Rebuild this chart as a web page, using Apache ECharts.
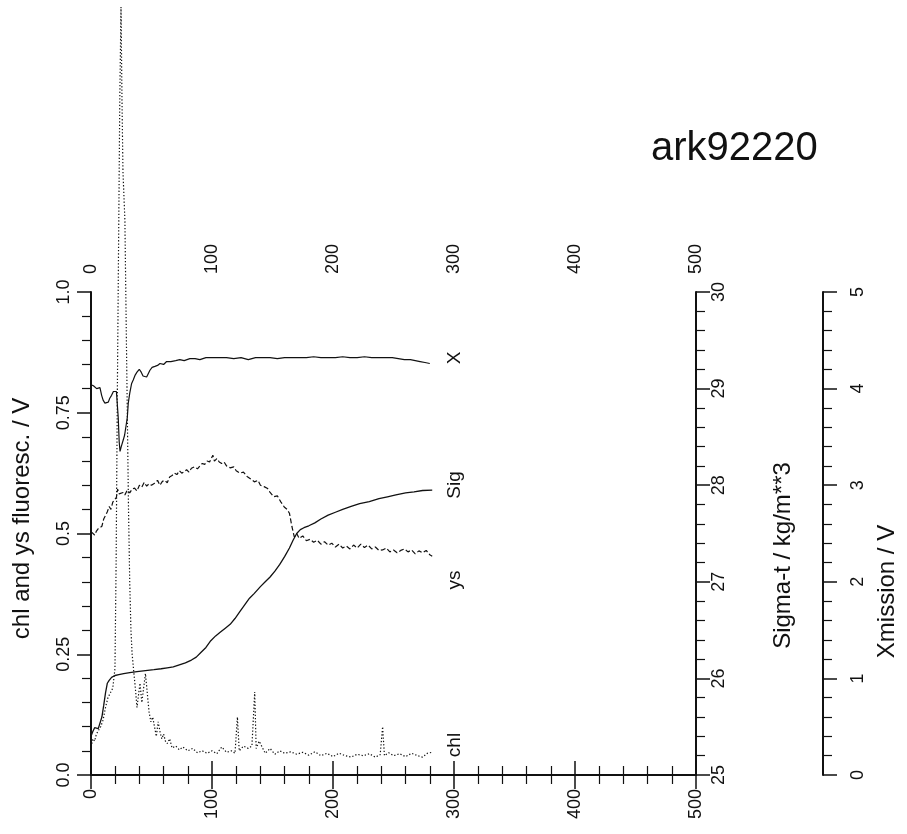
<!DOCTYPE html>
<html>
<head>
<meta charset="utf-8">
<script src="https://cdn.jsdelivr.net/npm/echarts@6/dist/echarts.min.js"></script>
<style>html,body{margin:0;padding:0;background:#fff}#c{width:907px;height:834px}</style>
</head>
<body>
<div id="c"></div>
<script>
var FONT = '"Liberation Sans", Arial, Helvetica, sans-serif';

var titleText = 'ark92220';
var leftAxisName = 'chl and ys fluoresc. / V';
var sigAxisName = 'Sigma-t / kg/m**3';
var xmAxisName = 'Xmission / V';
var leftTickLabels = {'0': '0.0', '0.25': '0.25', '0.5': '0.5', '0.75': '0.75', '1': '1.0'};
var curveNames = ['X', 'Sig', 'ys', 'chl'];

var chlDepth = [0,1.5,3,4.5,6,8,10,12,14,16,18,19.8,20.8,21.8,22.8,23.8,24.8,25.6,26.4,27.2,28,29,30,31,32,33,34,35.5,37,38,39,40.5,42,43.5,45,46.5,48,49.5,51,52.5,54,55.5,57,58.5,60,61.5,63,65,67,70,73,76,80,84,88,92,96,100,104,108,112,116,119,121,122.5,126,130,133,135.3,136.5,139,141,144,148,152,156,160,165,170,175,180,185,190,195,200,205,210,215,220,225,230,235,239,241,242.5,246,250,255,260,265,270,274,278,282];
var chlVal = [0.058,0.075,0.07,0.085,0.087,0.1,0.114,0.14,0.16,0.17,0.18,0.22,0.45,0.8,1.1,1.4,1.59,1.4,1.25,1.2,1.15,0.95,0.75,0.55,0.4,0.3,0.25,0.21,0.17,0.14,0.16,0.19,0.15,0.18,0.21,0.17,0.13,0.11,0.12,0.1,0.08,0.11,0.09,0.075,0.085,0.07,0.065,0.075,0.056,0.06,0.052,0.058,0.05,0.055,0.046,0.05,0.045,0.05,0.044,0.058,0.047,0.05,0.045,0.12,0.05,0.06,0.055,0.06,0.172,0.055,0.07,0.06,0.045,0.055,0.043,0.05,0.045,0.048,0.043,0.047,0.041,0.048,0.04,0.045,0.038,0.045,0.04,0.037,0.043,0.04,0.044,0.037,0.042,0.1,0.04,0.046,0.04,0.044,0.038,0.045,0.04,0.037,0.045,0.047];

var ysDepth = [0,1.5,3,4.5,6,7.5,9,10.5,12,13.5,15,16.5,18,19.6,21,22,23.2,24.8,26.5,28,30,32,34,36,38,40,42,44,46,48,50,52.5,55,57,59,61,63,65,67,69,71,73,75,77,79,81,83,85.5,88,90,92,94,96,98,100.7,102,104,106,108,110,112,115,118,120,123,126,129,132,135,138,140,143,146,148,151,154,157,159.7,162,164,166,168,170,172,175,178,181,184,187,190,193,196,199,202,205,208,211,214,217,220,223,226,229,232,235,238,241,244,247,250,253,256,259,262,265,268,271,274,277,280,282];
var ysVal = [0.504,0.5,0.497,0.505,0.51,0.508,0.515,0.53,0.528,0.545,0.556,0.55,0.565,0.569,0.575,0.592,0.582,0.578,0.585,0.58,0.59,0.584,0.592,0.594,0.588,0.6,0.596,0.606,0.598,0.603,0.6,0.604,0.61,0.6,0.608,0.61,0.605,0.617,0.62,0.625,0.622,0.63,0.625,0.628,0.632,0.627,0.635,0.638,0.634,0.64,0.645,0.643,0.65,0.648,0.662,0.65,0.655,0.648,0.645,0.648,0.64,0.636,0.638,0.63,0.625,0.627,0.618,0.613,0.607,0.61,0.6,0.597,0.593,0.585,0.576,0.578,0.565,0.555,0.55,0.542,0.515,0.493,0.5,0.49,0.495,0.485,0.488,0.482,0.486,0.478,0.483,0.476,0.48,0.472,0.478,0.47,0.474,0.468,0.476,0.47,0.478,0.471,0.476,0.468,0.472,0.465,0.466,0.47,0.462,0.466,0.46,0.465,0.468,0.462,0.466,0.458,0.464,0.46,0.465,0.456,0.453];

var sigDepth = [0,1.5,3,4.5,6,7.5,9,10.5,12,13.5,15,17,19.8,23,27,32,38,45,52,58,63,68,73,78,83,87,91,95,99,103,107,111,115,119,123,127,131,135,140,144,148,152,156,160,164,167,170,173,176,180,185,190,196,202,208,215,222,230,238,245,252,260,267,274,282];
var sigVal = [25.40,25.45,25.49,25.50,25.48,25.50,25.60,25.72,25.85,25.95,25.98,26.01,26.03,26.04,26.05,26.06,26.07,26.08,26.09,26.10,26.11,26.12,26.14,26.16,26.19,26.22,26.27,26.32,26.39,26.44,26.48,26.52,26.56,26.62,26.69,26.76,26.83,26.88,26.95,27.00,27.05,27.11,27.18,27.26,27.35,27.43,27.50,27.54,27.56,27.58,27.61,27.65,27.69,27.72,27.75,27.78,27.81,27.83,27.86,27.88,27.90,27.92,27.93,27.945,27.95];

var xmDepth = [0,2,4.7,6,7.4,8.8,10,11.5,13,14.3,15.5,17,18.5,19.8,21,21.7,22.5,23.3,24,25,25.8,26.7,27.8,28.9,30,30.8,32,33.5,34.9,36.5,38,39.9,41.5,43,44.5,46,47.5,48.7,50.5,52.8,55,57,60,62.5,66,70,73.4,77,81.7,86,90,95,100.7,106,112,118,124,130,136,142,148,154,160,166,172,178,184,190,196,202,208,214,220,226,232,238,244,249,254,259,264,268,272,276,280];
var xmVal = [4.04,4.03,4.00,4.02,4.01,3.93,3.88,3.85,3.86,3.86,3.90,3.93,3.97,3.99,3.97,3.95,3.70,3.45,3.35,3.40,3.38,3.47,3.52,3.61,3.70,3.85,3.95,4.05,4.09,4.14,4.17,4.20,4.17,4.13,4.13,4.12,4.16,4.19,4.22,4.23,4.24,4.26,4.25,4.28,4.28,4.29,4.30,4.29,4.31,4.31,4.30,4.32,4.32,4.32,4.32,4.31,4.32,4.30,4.32,4.32,4.32,4.31,4.32,4.32,4.32,4.32,4.33,4.32,4.32,4.32,4.33,4.32,4.32,4.33,4.32,4.32,4.32,4.32,4.31,4.30,4.30,4.29,4.28,4.27,4.26];

function pairs(a, b) { return a.map(function (d, i) { return [d, b[i]]; }); }

var black = '#111';
var tickLabel = { color: black, fontFamily: FONT, fontSize: 18, rotate: 90 };
var nameSize = 24;

function depthAxis(pos, margin) {
  return {
    type: 'value', position: pos, min: 0, max: 500, interval: 100,
    axisLine: { show: true, lineStyle: { color: black, width: 2 } },
    axisTick: { show: true, inside: false, length: 14, lineStyle: { color: black, width: 1.5 } },
    minorTick: { show: true, splitNumber: 5, length: 9, lineStyle: { color: black, width: 1.2 } },
    splitLine: { show: false }, minorSplitLine: { show: false },
    axisLabel: Object.assign({}, tickLabel, { margin: margin })
  };
}

function valAxis(o) {
  return Object.assign({
    type: 'value', nameLocation: 'middle', nameRotate: 90,
    axisLine: { show: true, onZero: false, lineStyle: { color: black, width: 2 } },
    axisTick: { show: true, inside: false, length: 14, lineStyle: { color: black, width: 1.5 } },
    minorTick: { show: true, splitNumber: 5, length: 9, lineStyle: { color: black, width: 1.2 } },
    splitLine: { show: false }, minorSplitLine: { show: false }
  }, o);
}

var chart = echarts.init(document.getElementById('c'), null, { renderer: 'canvas' });
chart.setOption({
  backgroundColor: '#fff',
  animation: false,
  title: {
    text: titleText, left: 646, top: 124,
    textStyle: { fontFamily: FONT, fontSize: 40, fontWeight: 'normal', color: black }
  },
  grid: { left: 91, top: 292, right: 210, bottom: 59, containLabel: false },
  xAxis: [depthAxis('bottom', 14), depthAxis('top', 18)],
  yAxis: [
    valAxis({
      position: 'left', min: 0, max: 1, interval: 0.25,
      name: leftAxisName, nameGap: 57,
      nameTextStyle: { fontFamily: FONT, fontSize: nameSize, color: black, padding: [0, 0, 0, 30] },
      axisLabel: Object.assign({}, tickLabel, {
        margin: 18,
        formatter: function (v) { return leftTickLabels[String(v)] || String(v); }
      })
    }),
    valAxis({
      position: 'right', min: 25, max: 30, interval: 1,
      name: sigAxisName, nameGap: 75,
      nameTextStyle: { fontFamily: FONT, fontSize: nameSize, color: black, padding: [0, 44, 0, 0] },
      axisLabel: Object.assign({}, tickLabel, { margin: 14 })
    }),
    valAxis({
      position: 'right', offset: 127, min: 0, max: 5, interval: 1,
      name: xmAxisName, nameGap: 52,
      nameTextStyle: { fontFamily: FONT, fontSize: nameSize, color: black, padding: [0, 116, 0, 0] },
      axisLabel: Object.assign({}, tickLabel, { margin: 26 })
    })
  ],
  series: [
    {
      name: 'chl', type: 'line', xAxisIndex: 0, yAxisIndex: 0, data: pairs(chlDepth, chlVal),
      showSymbol: false, symbol: 'none', clip: false,
      lineStyle: { color: black, width: 1.2, type: [1.3, 2] }
    },
    {
      name: 'ys', type: 'line', xAxisIndex: 0, yAxisIndex: 0, data: pairs(ysDepth, ysVal),
      showSymbol: false, symbol: 'none',
      lineStyle: { color: black, width: 1.2, type: [5, 2.5] }
    },
    {
      name: 'Sig', type: 'line', xAxisIndex: 0, yAxisIndex: 1, data: pairs(sigDepth, sigVal),
      showSymbol: false, symbol: 'none',
      lineStyle: { color: black, width: 1.3 }
    },
    {
      name: 'X', type: 'line', xAxisIndex: 0, yAxisIndex: 2, data: pairs(xmDepth, xmVal),
      showSymbol: false, symbol: 'none',
      lineStyle: { color: black, width: 1.2 }
    }
  ],
  graphic: [
    { type: 'text', x: 455, y: 358, rotation: Math.PI / 2, style: { text: curveNames[0], font: '19px ' + FONT, fill: black, align: 'center', verticalAlign: 'middle' } },
    { type: 'text', x: 455, y: 485, rotation: Math.PI / 2, style: { text: curveNames[1], font: '19px ' + FONT, fill: black, align: 'center', verticalAlign: 'middle' } },
    { type: 'text', x: 455, y: 580, rotation: Math.PI / 2, style: { text: curveNames[2], font: '19px ' + FONT, fill: black, align: 'center', verticalAlign: 'middle' } },
    { type: 'text', x: 455, y: 745, rotation: Math.PI / 2, style: { text: curveNames[3], font: '19px ' + FONT, fill: black, align: 'center', verticalAlign: 'middle' } }
  ]
});
</script>
</body>
</html>
